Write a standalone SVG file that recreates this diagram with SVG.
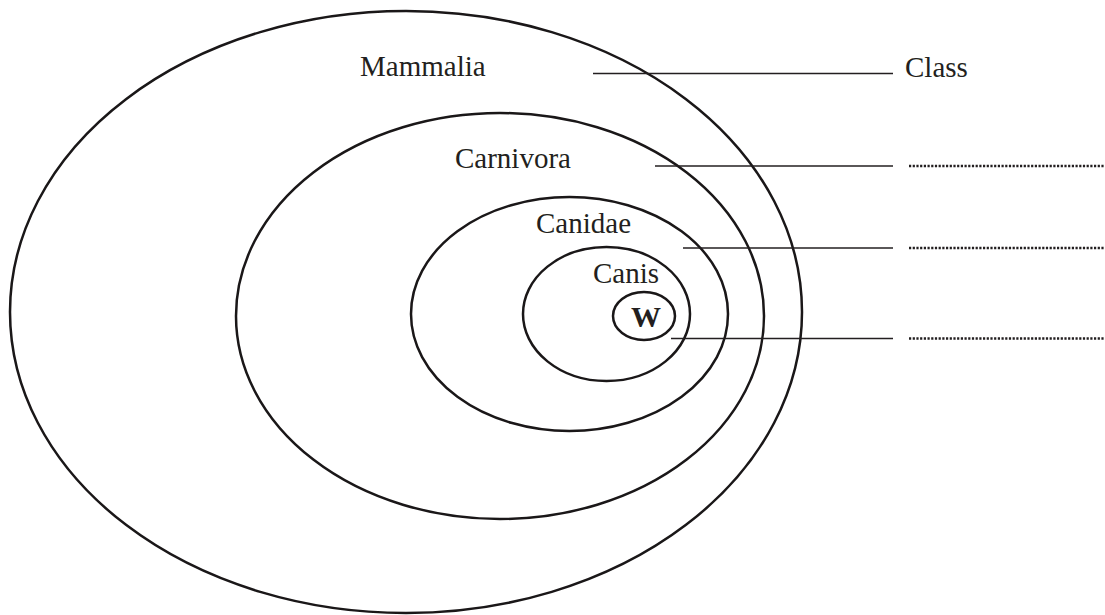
<svg xmlns="http://www.w3.org/2000/svg" width="1105" height="615" viewBox="0 0 1105 615">
<style>
.ring{fill:none;stroke:#1a1718;stroke-width:2.5}
.lbl{font-family:"Liberation Serif","Times New Roman",serif;font-size:29px;fill:#231f20}
.w{font-family:"Liberation Serif","Times New Roman",serif;font-size:30px;font-weight:bold;fill:#231f20}
.ln{stroke:#231f20;stroke-width:1.4;fill:none}
.dot{stroke:#231f20;stroke-width:2.4;stroke-dasharray:2.2 1.5;fill:none}
</style>
<rect width="1105" height="615" fill="#fff"/>
<g id="mammalia">
<ellipse class="ring" cx="406" cy="312" rx="396" ry="301"/>
<text class="lbl" x="360" y="76">Mammalia</text>
</g>
<g id="carnivora">
<ellipse class="ring" cx="500" cy="316" rx="264" ry="203"/>
<text class="lbl" x="455" y="168">Carnivora</text>
</g>
<g id="canidae">
<ellipse class="ring" cx="569.5" cy="314" rx="158.5" ry="117"/>
<text class="lbl" x="536" y="233">Canidae</text>
</g>
<g id="canis">
<ellipse class="ring" cx="606.5" cy="314" rx="83.5" ry="67"/>
<text class="lbl" x="593" y="283">Canis</text>
</g>
<g id="w">
<ellipse class="ring" cx="644" cy="316" rx="31" ry="24"/>
<text class="w" x="646" y="327" text-anchor="middle">W</text>
</g>
<g id="class-label">
<text class="lbl" x="905" y="77">Class</text>
</g>
<g id="connectors">
<line class="ln" x1="593" y1="73.5" x2="893" y2="73.5"/>
<line class="ln" x1="655" y1="166" x2="893" y2="166"/>
<line class="ln" x1="683" y1="248" x2="893" y2="248"/>
<line class="ln" x1="671" y1="338.5" x2="893" y2="338.5"/>
<line class="dot" x1="909" y1="166" x2="1105" y2="166"/>
<line class="dot" x1="909" y1="248" x2="1105" y2="248"/>
<line class="dot" x1="909" y1="338.5" x2="1105" y2="338.5"/>
</g>
</svg>
